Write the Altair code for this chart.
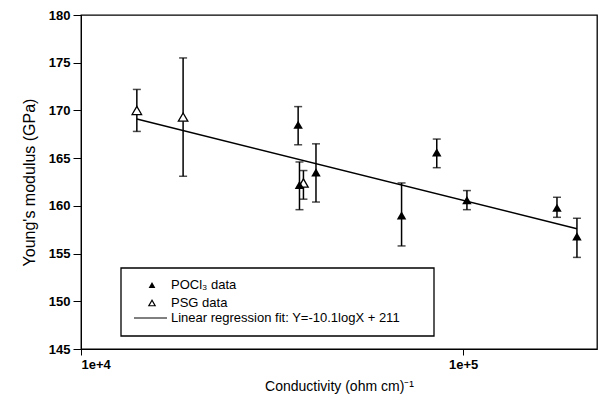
import altair as alt
import pandas as pd

# ---- data ----
pocl3_x = [37000, 37300, 41200, 69000, 85300, 102300, 176000, 198500]
pocl3_y = [168.5, 162.2, 163.5, 159.0, 165.6, 160.6, 159.8, 156.8]
pocl3_lo = [166.4, 159.6, 160.4, 155.8, 164.0, 159.6, 158.8, 154.6]
pocl3_hi = [170.4, 164.6, 166.5, 162.4, 167.0, 161.6, 160.9, 158.7]

psg_x = [14000, 18500, 38200]
psg_y = [170.0, 169.3, 162.4]
psg_lo = [167.8, 163.1, 160.7]
psg_hi = [172.2, 175.5, 163.7]

fit_x = [14000, 198500]
fit_y = [169.1, 157.6]

x_ticks = [1e4, 1e5]
y_ticks = [145, 150, 155, 160, 165, 170, 175, 180]

FONT = "Liberation Sans"

pocl = pd.DataFrame({"x": pocl3_x, "y": pocl3_y, "lo": pocl3_lo, "hi": pocl3_hi})
psg = pd.DataFrame({"x": psg_x, "y": psg_y, "lo": psg_lo, "hi": psg_hi})
allpts = pd.concat([pocl, psg], ignore_index=True)
caps = pd.DataFrame({
    "x": list(allpts["x"]) * 2,
    "v": list(allpts["lo"]) + list(allpts["hi"]),
})
fit = pd.DataFrame({"x": fit_x, "y": fit_y})
one = pd.DataFrame({"a": [0]})

xscale = alt.Scale(type="log", domain=[1e4, 2.24e5], nice=False)
yscale = alt.Scale(domain=[145, 180], nice=False, zero=False)

xaxis = alt.Axis(
    values=x_ticks, format=".0e", grid=False, tickSize=6, tickColor="black",
    domainColor="black", labelColor="black", labelFont=FONT, labelFontSize=13,
    labelFontWeight="bold", labelPadding=3,
    title="Conductivity (ohm cm)⁻¹", titleFont=FONT, titleFontSize=14,
    titleFontWeight="normal", titleColor="black", titlePadding=8,
)
yaxis = alt.Axis(
    values=y_ticks, grid=False, tickSize=8, tickColor="black",
    domainColor="black", labelColor="black", labelFont=FONT, labelFontSize=13,
    labelFontWeight="bold", labelPadding=3,
    title="Young's modulus (GPa)", titleFont=FONT, titleFontSize=16,
    titleFontWeight="normal", titleColor="black", titlePadding=11,
)

X = alt.X("x:Q", scale=xscale, axis=xaxis)

bars = alt.Chart(allpts).mark_rule(color="black", strokeWidth=1.5).encode(
    x=X, y=alt.Y("lo:Q", scale=yscale, axis=yaxis), y2="hi:Q"
)
capmarks = alt.Chart(caps).mark_tick(
    color="black", orient="horizontal", size=8, thickness=1.5
).encode(x=alt.X("x:Q", scale=xscale), y=alt.Y("v:Q", scale=yscale))

fitline = alt.Chart(fit).mark_line(color="black", strokeWidth=1.5).encode(
    x=alt.X("x:Q", scale=xscale), y=alt.Y("y:Q", scale=yscale)
)

p_pocl = alt.Chart(pocl).mark_point(
    shape="triangle-up", filled=True, color="black", size=90, opacity=1
).encode(x=alt.X("x:Q", scale=xscale), y=alt.Y("y:Q", scale=yscale))

p_psg = alt.Chart(psg).mark_point(
    shape="triangle-up", filled=True, fill="white", stroke="black",
    strokeWidth=1.3, size=90, opacity=1
).encode(x=alt.X("x:Q", scale=xscale), y=alt.Y("y:Q", scale=yscale))

# ---- legend box (drawn by hand) ----
leg_box = alt.Chart(one).mark_rect(fill="white", stroke="black", strokeWidth=1.3).encode(
    x=alt.value(40), x2=alt.value(353), y=alt.value(253), y2=alt.value(321)
)
leg_tri1 = alt.Chart(one).mark_point(
    shape="triangle-up", filled=True, color="black", size=45, opacity=1
).encode(x=alt.value(71), y=alt.value(270))
leg_tri2 = alt.Chart(one).mark_point(
    shape="triangle-up", filled=True, fill="white", stroke="black",
    strokeWidth=1.2, size=40, opacity=1
).encode(x=alt.value(71), y=alt.value(288))
leg_line = alt.Chart(one).mark_rule(color="black", strokeWidth=1).encode(
    x=alt.value(53), x2=alt.value(86), y=alt.value(303)
)
leg_texts = []
for yy, txt in [(270, "POCl₃ data"), (288, "PSG data"),
                (303, "Linear regression fit: Y=-10.1logX + 211")]:
    leg_texts.append(
        alt.Chart(one).mark_text(
            align="left", baseline="middle", font=FONT, fontSize=13, color="black"
        ).encode(x=alt.value(90), y=alt.value(yy), text=alt.value(txt))
    )

chart = alt.layer(
    bars, capmarks, fitline, p_psg, p_pocl,
    leg_box, leg_tri1, leg_tri2, leg_line, *leg_texts
).properties(
    width=516, height=334,
    autosize=alt.AutoSizeParams(type="none"),
    padding={"left": 81, "top": 15, "right": 4, "bottom": 57},
    background="white",
).configure_view(stroke="black", strokeWidth=1.3)

chart.save("out.html", embed_options={"renderer": "svg", "actions": False})
